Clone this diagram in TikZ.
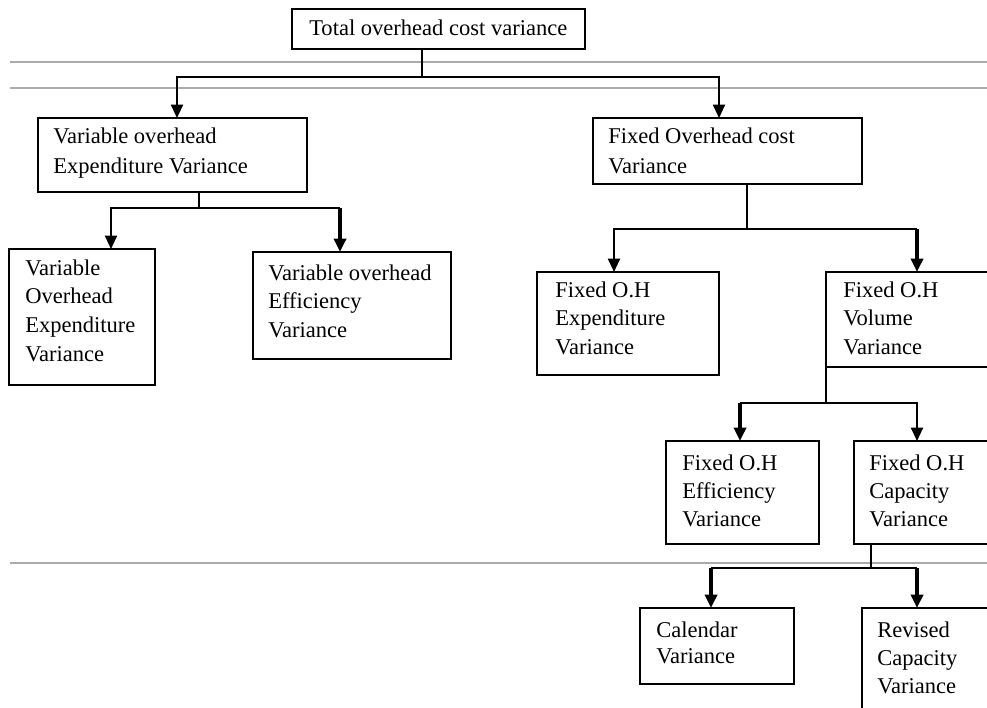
\documentclass[tikz,border=0pt]{standalone}
\usepackage{fontspec}
\setmainfont{Liberation Serif}
\usetikzlibrary{arrows.meta}
\newcommand\mybox[6][]{\node[boxst,#1,minimum width=#5*0.75pt,minimum height=#6*0.75pt] (#2) at (#3,#4) {};}
\newcommand\mytext[5]{\node[txtst] (#1) at (#2,#3) {\fontsize{16.9pt}{#4pt}\selectfont\begin{tabular}[t]{@{}l@{}}#5\end{tabular}};}
\begin{document}
\begin{tikzpicture}[x=0.75pt,y=-0.75pt,
  boxst/.style={draw,line width=1.5pt,inner sep=0pt,outer sep=0pt,anchor=north west},
  txtst/.style={inner sep=0pt,anchor=base west},
  conn/.style={line width=1.5pt},
  thickconn/.style={line width=2.5pt},
  tip/.style={-{Triangle[length=10pt,width=9pt]}},
  grayline/.style={draw=black!33,line width=0.9pt}]
\clip (0,0) rectangle (987,707);
\fill[white] (0,0) rectangle (987,707);
% gray rules
\draw[grayline] (10,62) -- (987,62);
\draw[grayline] (10,88) -- (987,88);
\draw[grayline] (10,563) -- (987,563);
% boxes
\mybox[line width=1.1pt]{top}{292}{9}{293}{40}
\mybox{voe}{38}{118}{269}{74}
\mybox{vox}{9}{249}{146}{136}
\mybox{vef}{253}{252}{198}{107}
\mybox{foc}{593}{118}{269}{66}
\mybox{fex}{537}{272}{182}{103}
\mybox{fvol}{826}{272}{200}{95}
\mybox{feff}{666}{441}{153}{103}
\mybox{fcap}{854}{441}{180}{103}
\mybox[line width=2.2pt]{cal}{640}{608}{154}{76}
\mybox{rev}{862}{608}{180}{140}
% texts
\mytext{ttop}{309}{35}{22.5}{Total overhead cost variance}
\mytext{tvoe}{53}{143}{22.5}{Variable overhead\\Expenditure Variance}
\mytext{tvox}{25}{275}{21.7}{Variable\\Overhead\\Expenditure\\Variance}
\mytext{tvef}{268}{280}{21.4}{Variable overhead\\Efficiency\\Variance}
\mytext{tfoc}{608}{143}{22.5}{Fixed Overhead cost\\Variance}
\mytext{tfex}{555}{297}{21.5}{Fixed O.H\\Expenditure\\Variance}
\mytext{tfvol}{843}{297}{21.5}{Fixed O.H\\Volume\\Variance}
\mytext{tfeff}{682}{470}{21}{Fixed O.H\\Efficiency\\Variance}
\mytext{tfcap}{869}{470}{21}{Fixed O.H\\Capacity\\Variance}
\mytext{tcal}{656}{637}{19.5}{Calendar\\Variance}
\mytext{trev}{877}{637}{21}{Revised\\Capacity\\Variance}
% junctions
\coordinate (j1) at (422,77);
\coordinate (j2) at (199,208);
\coordinate (j3) at (747,229);
\coordinate (j4) at (826,403);
\coordinate (j5) at (871,568);
% level 1
\draw[conn] (422,0 |- top.south) -- (j1);
\draw[conn,tip] (j1) -| (177,0 |- voe.north);
\draw[conn,tip] (j1) -| (719,0 |- foc.north);
% level 2 left
\draw[conn] (199,0 |- voe.south) -- (j2);
\draw[conn,tip] (j2) -| (111,0 |- vox.north);
\draw[conn] (j2) -- (340,208);
\draw[thickconn,tip] (340,208) -- (340,0 |- vef.north);
% level 2 right
\draw[conn] (747,0 |- foc.south) -- (j3);
\draw[conn,tip] (j3) -| (614,0 |- fex.north);
\draw[conn] (j3) -- (917,229);
\draw[thickconn,tip] (917,229) -- (917,0 |- fvol.north);
% level 3
\draw[conn] (826,0 |- fvol.south) -- (j4);
\draw[conn] (j4) -- (740,403);
\draw[thickconn,tip] (740,403) -- (740,0 |- feff.north);
\draw[conn,tip] (j4) -| (917,0 |- fcap.north);
% level 4
\draw[conn] (871,0 |- fcap.south) -- (j5);
\draw[conn] (j5) -- (711,568);
\draw[thickconn,tip] (711,568) -- (711,0 |- cal.north);
\draw[conn] (j5) -- (917,568);
\draw[thickconn,tip] (917,568) -- (917,0 |- rev.north);
\end{tikzpicture}
\end{document}
